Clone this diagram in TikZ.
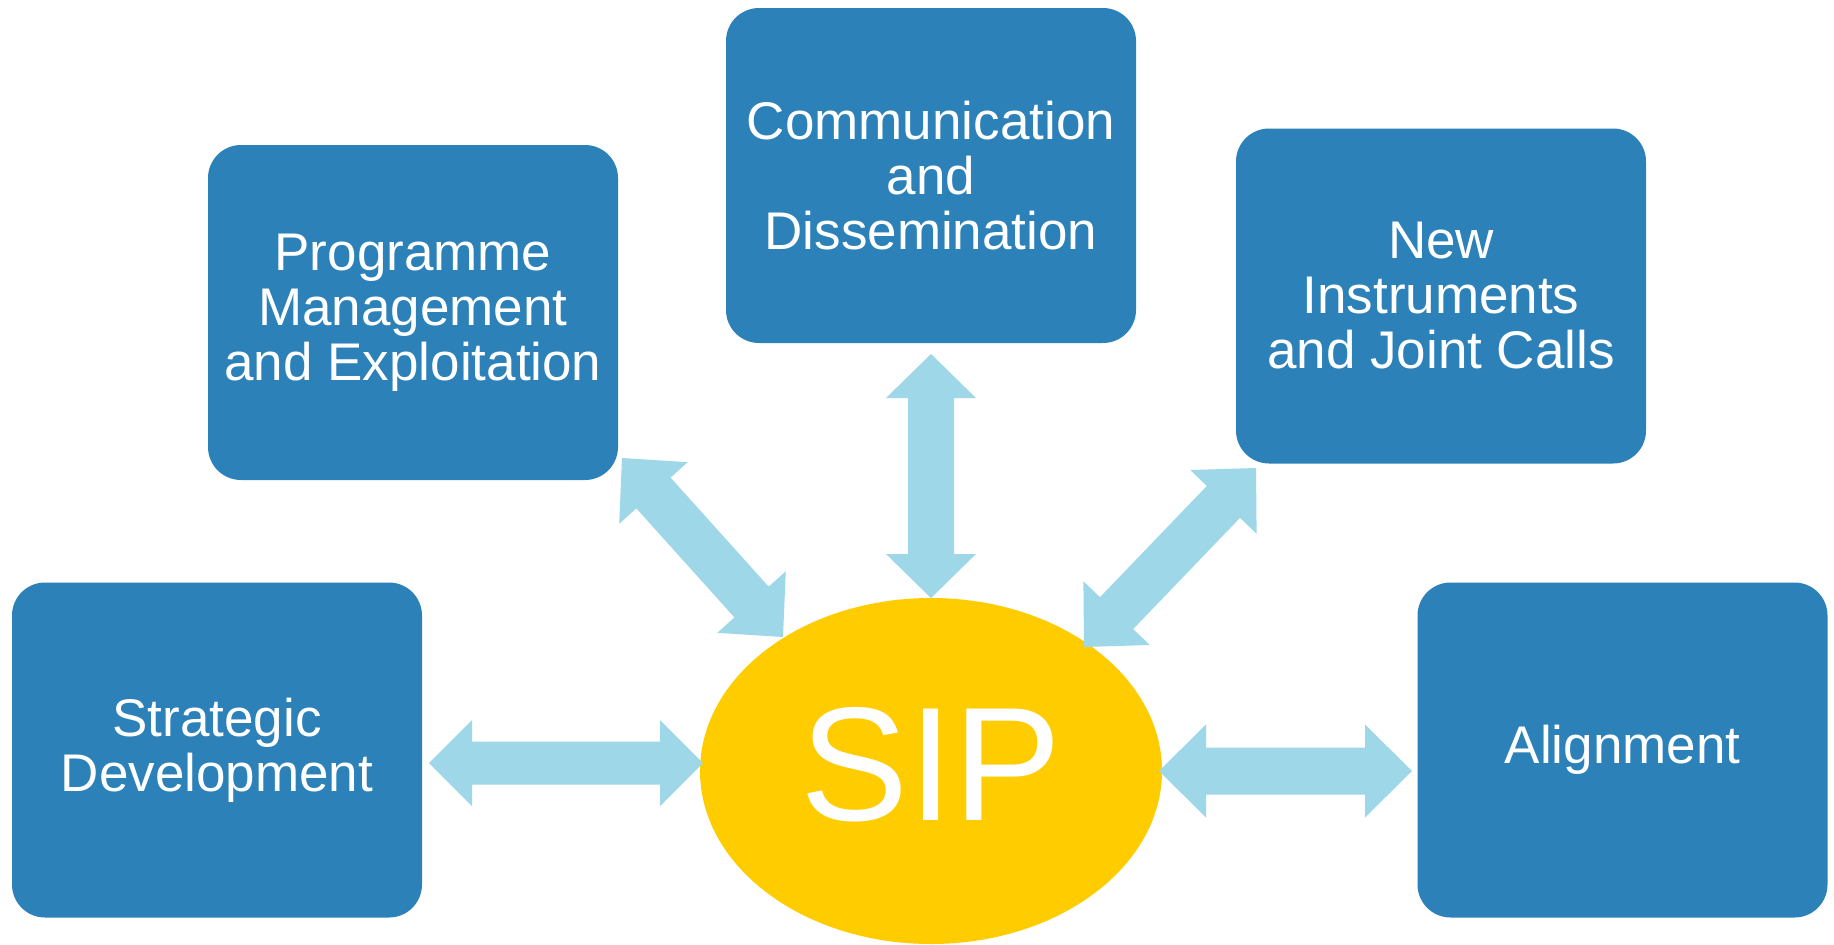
\documentclass[tikz,border=0pt]{standalone}
\usepackage{fontspec}
\setmainfont{Liberation Sans}
\usetikzlibrary{calc,shapes.geometric}
\definecolor{boxblue}{RGB}{44,129,184}
\definecolor{arrowblue}{RGB}{157,215,232}
\definecolor{sipyellow}{RGB}{255,204,0}
% block double arrow between two named coordinates:
% #1 start, #2 end, #3 shaft half width, #4 head half width, #5 head length
\newcommand{\blockarrow}[5]{%
  \fill[arrowblue] let \p1=($(#2)-(#1)$), \n1={atan2(\y1,\x1)}, \n2={veclen(\x1,\y1)} in
    ([shift={(#1)},rotate=\n1]0pt,0pt)
    -- ([shift={(#1)},rotate=\n1]#5,#4)
    -- ([shift={(#1)},rotate=\n1]#5,#3)
    -- ([shift={(#1)},rotate=\n1]\n2-#5,#3)
    -- ([shift={(#1)},rotate=\n1]\n2-#5,#4)
    -- ([shift={(#1)},rotate=\n1]\n2,0pt)
    -- ([shift={(#1)},rotate=\n1]\n2-#5,-#4)
    -- ([shift={(#1)},rotate=\n1]\n2-#5,-#3)
    -- ([shift={(#1)},rotate=\n1]#5,-#3)
    -- ([shift={(#1)},rotate=\n1]#5,-#4)
    -- cycle;}
\tikzset{
  topic/.style={fill=boxblue, rounded corners=33pt, minimum width=410pt,
    minimum height=335pt, inner sep=0pt, text=white, align=center,
    font=\fontsize{53}{55}\selectfont},
  hub/.style={ellipse, fill=sipyellow, minimum width=462pt, minimum height=346pt,
    inner sep=0pt, text=white, font=\fontsize{162}{170}\selectfont, text depth=14pt}
}
\begin{document}
\begin{tikzpicture}[x=1pt,y=-1pt]
\useasboundingbox[fill=white] (0,0) rectangle (1834,945);
\node[topic] (strat) at (217,750) {Strategic\\Development};
\node[topic] (prog) at (413,312.5) {Programme\\Management\\and Exploitation};
\node[topic] (comm) at (931,175.5) {Communication\\and\\Dissemination};
\node[topic] (newi) at (1441,296) {New\\Instruments\\and Joint Calls};
\node[topic] (align) at (1622.5,750) {Alignment};
\node[hub] (sip) at (931,771) {SIP};
% arrow end points
\coordinate (hL1) at (429,763);
\coordinate (hL2) at (703,763);
\coordinate (hR1) at (1159,771);
\coordinate (hR2) at (1412,771);
\coordinate (vT) at (931,354);
\coordinate (vB) at (931,598);
\coordinate (dL1) at (622,458);
\coordinate (dL2) at (783,637);
\coordinate (dR1) at (1256,468);
\coordinate (dR2) at (1084,647);
\blockarrow{hL1}{hL2}{21.5pt}{43pt}{43pt}
\blockarrow{hR1}{hR2}{23.5pt}{46.5pt}{47pt}
\blockarrow{vT}{vB}{23pt}{45pt}{44pt}
\blockarrow{dL1}{dL2}{23pt}{46pt}{47pt}
\blockarrow{dR1}{dR2}{23pt}{46pt}{47pt}
\end{tikzpicture}
\end{document}
